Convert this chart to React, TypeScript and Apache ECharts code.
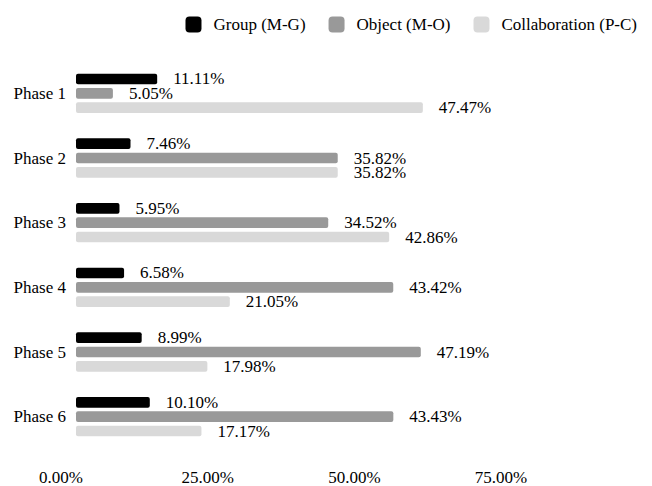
import React, { useEffect, useRef } from "react";
import * as echarts from "echarts";

const categories = ["Phase 1", "Phase 2", "Phase 3", "Phase 4", "Phase 5", "Phase 6"];
const seriesNames = ["Group (M-G)", "Object (M-O)", "Collaboration (P-C)"];
const groupValues = [11.11, 7.46, 5.95, 6.58, 8.99, 10.1];
const objectValues = [5.05, 35.82, 34.52, 43.42, 47.19, 43.43];
const collaborationValues = [47.47, 35.82, 42.86, 21.05, 17.98, 17.17];
const xTicks = [0, 25, 50, 75];
const colors = ["#000000", "#999999", "#d9d9d9"];

const FONT = "Liberation Serif";
const FS = 17;

export default function App() {
  const ref = useRef<HTMLDivElement>(null);
  useEffect(() => {
    if (!ref.current) return;
    const chart = echarts.init(ref.current, null, { renderer: "svg" });
    const seriesData = [groupValues, objectValues, collaborationValues];
    const option = {
      animation: false,
      textStyle: { fontFamily: FONT },
      legend: {
        data: seriesNames,
        right: 15,
        top: 16,
        padding: 0,
        itemWidth: 16,
        itemHeight: 16,
        itemGap: 23,
        icon: "roundRect",
        textStyle: { fontFamily: FONT, fontSize: FS, color: "#000", padding: [0, 0, 0, 7] },
      },
      grid: [
        { left: 76, width: 548, top: 61, height: 388 },
        { left: 61, width: 440, top: 61, height: 388 },
      ],
      xAxis: [
        {
          type: "value",
          gridIndex: 0,
          min: xTicks[0],
          max: xTicks[xTicks.length - 1],
          interval: 25,
          axisLabel: { show: false },
          axisLine: { show: false },
          axisTick: { show: false },
          splitLine: { show: false },
        },
        {
          type: "value",
          gridIndex: 1,
          min: xTicks[0],
          max: xTicks[xTicks.length - 1],
          interval: 25,
          axisLabel: {
            fontFamily: FONT,
            fontSize: FS,
            color: "#000",
            margin: 21,
            formatter: (v: number) => v.toFixed(2) + "%",
          },
          axisLine: { show: false },
          axisTick: { show: false },
          splitLine: { show: false },
        },
      ],
      yAxis: [
        {
          type: "category",
          gridIndex: 0,
          data: categories,
          inverse: true,
          axisLine: { show: false },
          axisTick: { show: false },
          axisLabel: { fontFamily: FONT, fontSize: FS, color: "#000", margin: 10 },
        },
        {
          type: "category",
          gridIndex: 1,
          data: categories,
          inverse: true,
          show: false,
        },
      ],
      series: seriesNames.map((name, i) => ({
        name,
        type: "bar",
        xAxisIndex: 0,
        yAxisIndex: 0,
        data: seriesData[i],
        barWidth: 10.7,
        barGap: "34%",
        itemStyle: { color: colors[i], borderRadius: 2 },
        label: {
          show: true,
          position: "right",
          distance: 16,
          fontFamily: FONT,
          fontSize: FS,
          color: "#000",
          formatter: (p: any) => Number(p.value).toFixed(2) + "%",
        },
      })),
    };
    chart.setOption(option as any);
    return () => chart.dispose();
  }, []);
  return (
    <div
      ref={ref}
      style={{ position: "absolute", left: 0, top: 0, width: 652, height: 486, background: "#fff" }}
    />
  );
}
